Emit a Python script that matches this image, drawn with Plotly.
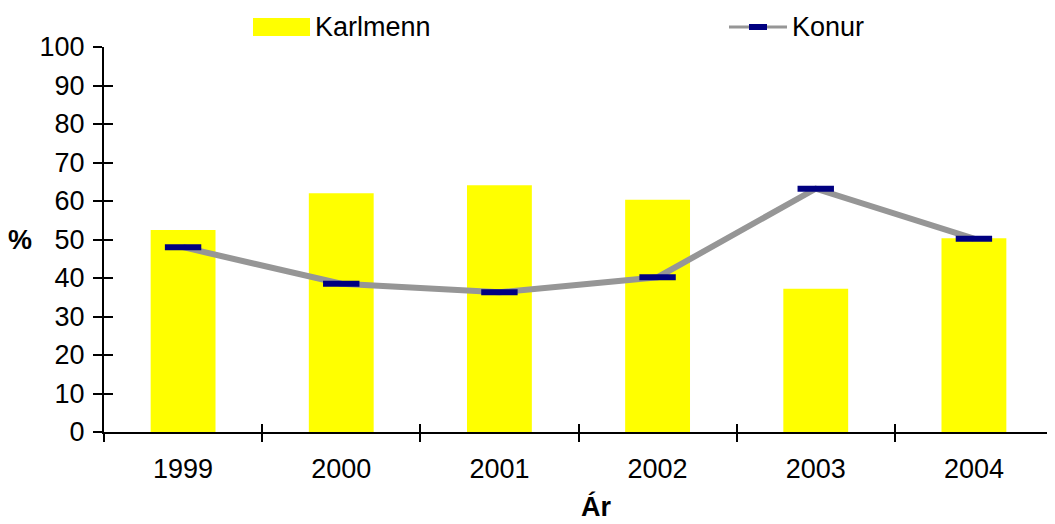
import plotly.graph_objects as go

# data
years = ["1999", "2000", "2001", "2002", "2003", "2004"]
karlmenn = [52.5, 62.0, 64.1, 60.3, 37.2, 50.3]
konur = [48.0, 38.5, 36.3, 40.2, 63.2, 50.2]
y_ticks = [0, 10, 20, 30, 40, 50, 60, 70, 80, 90, 100]

# the page body has an 8px margin, so the figure is shrunk by that much
OFF = 8
W, H = 1055 - OFF, 524 - OFF
L, R, T, B = 104 - OFF, 2, 47 - OFF, 524 - 432
FONT = "Liberation Sans, Arial, sans-serif"
FS = 27


def px(x, y):
    # page pixel position -> paper coords (used only for the hand drawn legend/titles)
    x, y = x - OFF, y - OFF
    return (x - L) / (W - L - R), (H - B - y) / (H - T - B)


fig = go.Figure()

fig.add_trace(go.Bar(
    x=years, y=karlmenn, name="Karlmenn",
    marker=dict(color="#FFFF00", line=dict(width=0)),
    width=0.41, showlegend=False, hoverinfo="skip"
))

fig.add_trace(go.Scatter(
    x=years, y=konur, name="Konur", mode="lines+markers",
    line=dict(color="#969696", width=6),
    marker=dict(symbol="line-ew", size=26, line=dict(width=6, color="#000080")),
    showlegend=False, hoverinfo="skip"
))

# invisible copy so the overlay axes (inner half of the crossing ticks) get drawn
fig.add_trace(go.Scatter(
    x=years, y=konur, mode="markers", marker=dict(opacity=0),
    xaxis="x2", yaxis="y2", showlegend=False, hoverinfo="skip"
))

fig.update_layout(
    width=W, height=H,
    margin=dict(l=L, r=R, t=T, b=B),
    plot_bgcolor="white", paper_bgcolor="white",
    font=dict(family=FONT, size=FS, color="black"),
    xaxis=dict(
        type="category", tickson="boundaries", ticks="outside", ticklen=8,
        tickwidth=2, tickcolor="black", showline=True, linecolor="black",
        linewidth=2, showgrid=False, zeroline=False, automargin=False,
        ticklabelstandoff=12,
    ),
    yaxis=dict(
        range=[0, 100], tickvals=y_ticks, ticks="outside", ticklen=9,
        tickwidth=2, tickcolor="black", showline=True, linecolor="black",
        linewidth=2, showgrid=False, zeroline=False, automargin=False,
        ticklabelstandoff=3,
    ),
    xaxis2=dict(
        type="category", overlaying="x", tickson="boundaries", ticks="inside",
        ticklen=8, tickwidth=2, tickcolor="black", showticklabels=False,
        showline=False, showgrid=False, zeroline=False, matches="x",
        automargin=False,
    ),
    yaxis2=dict(
        overlaying="y", range=[0, 100], tickvals=y_ticks, ticks="inside",
        ticklen=9, tickwidth=2, tickcolor="black", showticklabels=False,
        showline=False, showgrid=False, zeroline=False, automargin=False,
    ),
)

# axis titles (horizontal "%" like the original)
ax, ay = px(20, 240)
fig.add_annotation(xref="paper", yref="paper", x=ax, y=ay, text="<b>%</b>",
                   showarrow=False, xanchor="center", yanchor="middle",
                   font=dict(size=FS))
bx, by = px(596, 506)
fig.add_annotation(xref="paper", yref="paper", x=bx, y=by, text="<b>Ár</b>",
                   showarrow=False, xanchor="center", yanchor="middle",
                   font=dict(size=FS))

# legend drawn by hand to match the wide swatches of the original
x0, y0 = px(253, 18)
x1, y1 = px(310, 36)
fig.add_shape(type="rect", xref="paper", yref="paper", x0=x0, y0=y0, x1=x1, y1=y1,
              fillcolor="#FFFF00", line=dict(width=0))
tx, ty = px(313, 27)
fig.add_annotation(xref="paper", yref="paper", x=tx, y=ty, text="Karlmenn",
                   showarrow=False, xanchor="left", yanchor="middle",
                   font=dict(size=FS))

lx0, ly = px(729, 27)
lx1, _ = px(787, 27)
fig.add_shape(type="line", xref="paper", yref="paper", x0=lx0, y0=ly, x1=lx1, y1=ly,
              line=dict(color="#969696", width=3))
mx0, _ = px(749, 27)
mx1, _ = px(767, 27)
fig.add_shape(type="line", xref="paper", yref="paper", x0=mx0, y0=ly, x1=mx1, y1=ly,
              line=dict(color="#000080", width=6))
tx2, _ = px(790, 27)
fig.add_annotation(xref="paper", yref="paper", x=tx2, y=ly, text="Konur",
                   showarrow=False, xanchor="left", yanchor="middle",
                   font=dict(size=FS))

fig.write_html("out.html")
